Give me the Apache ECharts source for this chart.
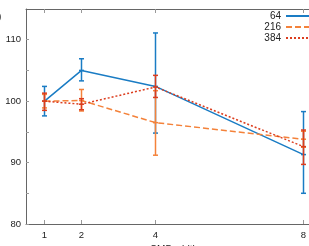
<!DOCTYPE html>
<html><head><meta charset="utf-8">
<script src="https://cdn.jsdelivr.net/npm/echarts@6/dist/echarts.min.js"></script>
<style>html,body{margin:0;padding:0;background:#fff;}#c{width:309px;height:246px;}</style>
</head><body><div id="c"></div>
<script>
var xValues = [1, 2, 4, 8];
var xTickLabels = [1, 2, 4, 8];
var yTickLabels = [80, 90, 100, 110];
var yTicks = [80, 85, 90, 95, 100, 105, 110];
var seriesNames = ['64', '216', '384'];
var mean64 = [100, 105, 102.4, 91.3];
var low64 = [97.6, 103.3, 94.8, 85.0];
var high64 = [102.4, 106.9, 111.1, 98.3];
var mean216 = [100, 100.1, 96.5, 93.8];
var low216 = [98.9, 98.4, 91.2, 92.5];
var high216 = [101.1, 101.9, 101.7, 95.1];
var mean384 = [100, 99.5, 102.3, 92.6];
var low384 = [98.5, 98.6, 100.6, 89.7];
var high384 = [101.3, 100.4, 104.2, 95.3];

var colors = ['#1a7cc4', '#f4823a', '#dc3d1e'];
var lineTypes = ['solid', [6, 3], [2, 2]];
var means = [mean64, mean216, mean384];
var lows = [low64, low216, low384];
var highs = [high64, high216, high384];

var font = 'Liberation Sans, Arial, sans-serif';
var series = [];
for (var i = 0; i < 3; i++) {
  (function (i) {
    var lineData = xValues.map(function (x, k) { return [x, means[i][k]]; });
    series.push({
      name: seriesNames[i], type: 'line', data: lineData, symbol: 'none',
      lineStyle: { color: colors[i], width: 1.5, type: lineTypes[i] },
      itemStyle: { color: colors[i] }, z: 2 + i, animation: false
    });
    var errData = xValues.map(function (x, k) { return [x, lows[i][k], highs[i][k], means[i][k]]; });
    series.push({
      name: seriesNames[i] + 'err', type: 'custom', data: errData, z: 2 + i, animation: false,
      renderItem: function (params, api) {
        var lo = api.coord([api.value(0), api.value(1)]);
        var hi = api.coord([api.value(0), api.value(2)]);
        var md = api.coord([api.value(0), api.value(3)]);
        var w = 2.5;
        var st = { stroke: colors[i], lineWidth: 1.5 };
        return { type: 'group', children: [
          { type: 'line', shape: { x1: lo[0], y1: lo[1], x2: hi[0], y2: hi[1] }, style: st },
          { type: 'line', shape: { x1: lo[0] - w, y1: lo[1], x2: lo[0] + w, y2: lo[1] }, style: st },
          { type: 'line', shape: { x1: hi[0] - w, y1: hi[1], x2: hi[0] + w, y2: hi[1] }, style: st },
          { type: 'line', shape: { x1: md[0] - w, y1: md[1], x2: md[0] + w, y2: md[1] }, style: st }
        ]};
      }
    });
  })(i);
}

var axisLineStyle = { color: '#666', width: 1 };
var chart = echarts.init(document.getElementById('c'), null, { renderer: 'canvas' });
chart.setOption({
  animation: false,
  backgroundColor: '#fff',
  textStyle: { fontFamily: font },
  grid: { left: 26, top: 9, bottom: 22, right: -13, containLabel: false, outerBoundsMode: 'none' },
  legend: {
    data: seriesNames, orient: 'vertical', right: -6, top: 11, align: 'right',
    itemWidth: 28, itemHeight: 8, itemGap: 1, padding: 0,
    itemStyle: { opacity: 0 },
    textStyle: { fontSize: 10, color: '#222', fontFamily: font }
  },
  graphic: [{ type: 'text', left: -12, top: 11, style: { text: '(a)', fontSize: 11, fill: '#222', fontFamily: font } }],
  xAxis: [{
    type: 'value', min: 0.5, max: 8.5, position: 'bottom',
    name: 'CMB width', nameLocation: 'middle', nameGap: 19,
    nameTextStyle: { fontSize: 10, color: '#222', fontFamily: font },
    axisLine: { show: true, lineStyle: axisLineStyle },
    axisTick: { show: true, inside: true, length: 4, customValues: xTickLabels, lineStyle: { color: '#999' } },
    axisLabel: { customValues: xTickLabels, fontSize: 9.5, color: '#222', margin: 6, fontFamily: font },
    splitLine: { show: false }
  }, {
    type: 'value', min: 0.5, max: 8.5, position: 'top',
    axisLine: { show: true, lineStyle: axisLineStyle },
    axisTick: { show: true, inside: true, length: 4, customValues: xTickLabels, lineStyle: { color: '#999' } },
    axisLabel: { show: false }, splitLine: { show: false }
  }],
  yAxis: [{
    type: 'value', min: 80, max: 115, position: 'left',
    axisLine: { show: true, lineStyle: axisLineStyle },
    axisTick: { show: true, inside: true, length: 3, customValues: yTicks, lineStyle: { color: '#999' } },
    axisLabel: { customValues: yTickLabels, fontSize: 9.5, color: '#222', margin: 5, fontFamily: font },
    splitLine: { show: false }
  }, {
    type: 'value', min: 80, max: 115, position: 'right',
    axisLine: { show: true, lineStyle: axisLineStyle },
    axisTick: { show: false }, axisLabel: { show: false }, splitLine: { show: false }
  }],
  series: series
});
</script></body></html>
